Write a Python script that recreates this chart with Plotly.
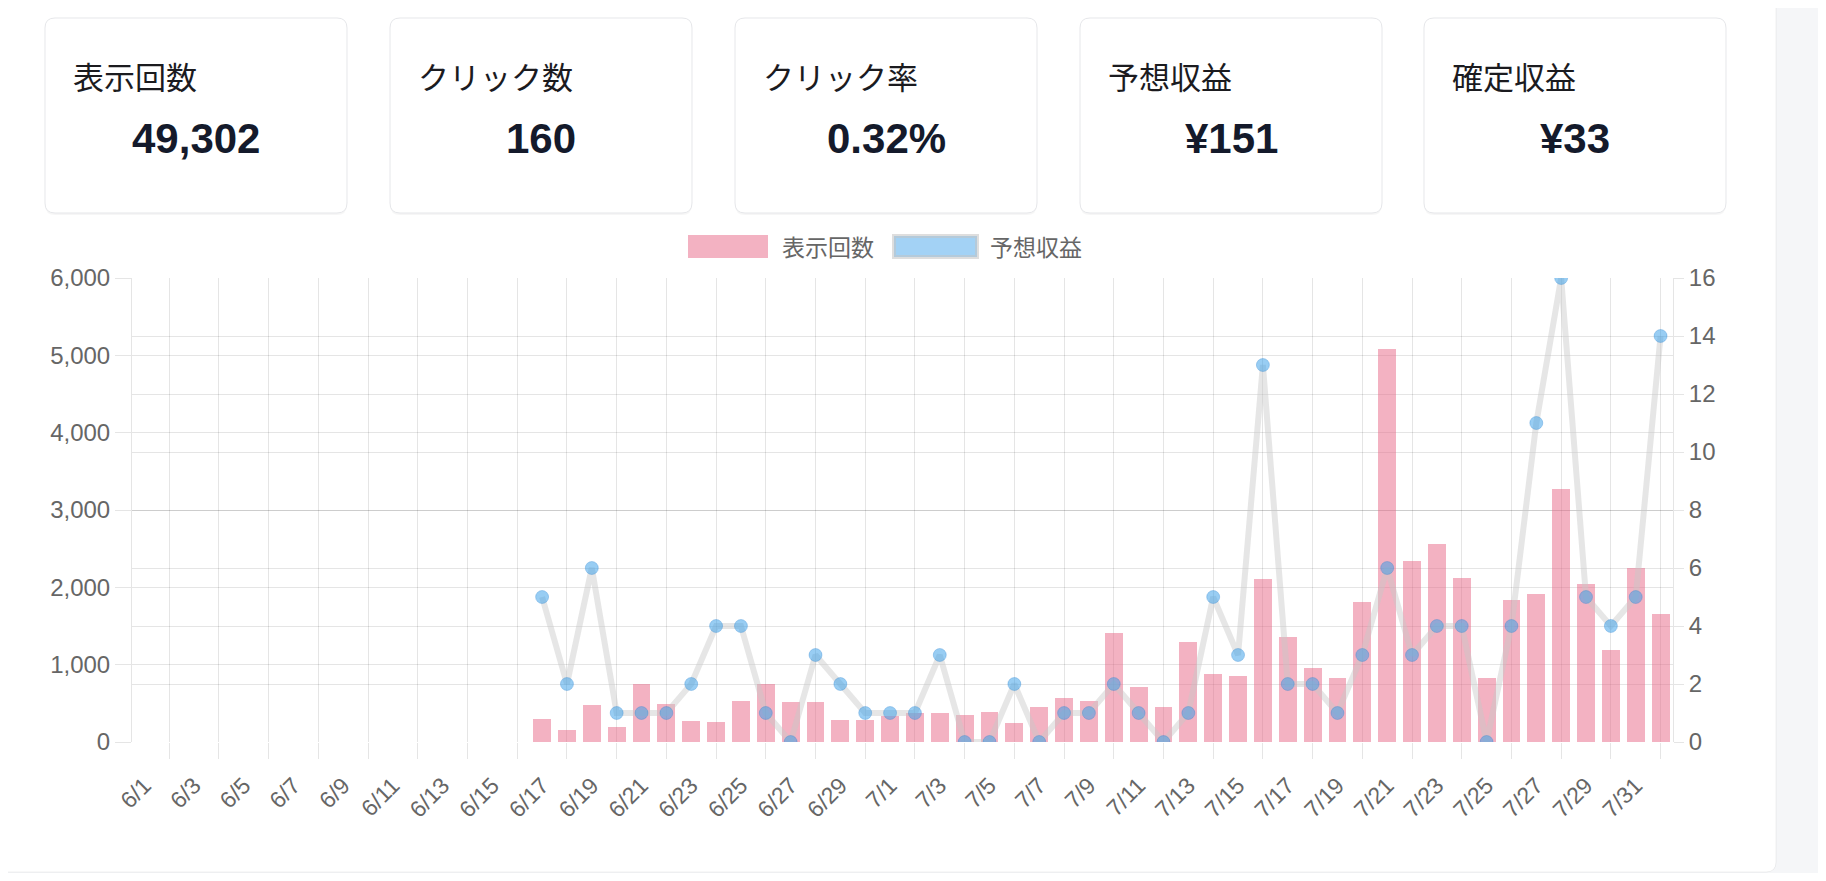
import plotly.graph_objects as go

# ----------------------------------- Data -----------------------------------

dates = [f"6/{d}" for d in range(1, 31)] + [f"7/{d}" for d in range(1, 32)] + ["8/1"]

impressions = [
    0, 0, 0, 0, 0, 0, 0, 0, 0, 0, 0, 0, 0, 0, 0, 0,
    300, 160, 475, 190, 755, 495, 275, 265, 535, 755, 520, 515, 285, 280,
    340, 375, 375, 345, 390, 250, 457, 565, 534, 1409, 707, 453, 1293, 879,
    853, 2112, 1358, 957, 823, 1810, 5078, 2336, 2556, 2116, 832, 1836, 1914,
    3276, 2039, 1185, 2250, 1655,
]

revenue = [
    None, None, None, None, None, None, None, None, None, None, None, None, None, None, None, None,
    5, 2, 6, 1, 1, 1, 2, 4, 4, 1, 0, 3, 2, 1,
    1, 1, 3, 0, 0, 2, 0, 1, 1, 2, 1, 0, 1, 5,
    3, 13, 2, 2, 1, 3, 6, 3, 4, 4, 0, 4, 11,
    16, 5, 4, 5, 14,
]

card_titles = ["表示回数", "クリック数", "クリック率", "予想収益", "確定収益"]
card_values = ["49,302", "160", "0.32%", "¥151", "¥33"]
legend_names = ["表示回数", "予想収益"]

# ----------------------------------- Helpers -----------------------------------

# the page body keeps its 8px margin on every side, so the figure is made
# 16px smaller than the window and all positions are given in window pixels
OFF = 8
W, H = 1826 - 2 * OFF, 881 - 2 * OFF
FONT = "Liberation Sans, Noto Sans CJK JP, sans-serif"
CJK = "Noto Sans CJK JP, sans-serif"
GRID = "rgba(0,0,0,0.1)"


def X(p):
    return (p - OFF) / W


def Y(p):
    return 1 - (p - OFF) / H


def rounded(x0, y0, x1, y1, r):
    pts = [
        ("M", x0 + r, y0), ("L", x1 - r, y0), ("Q", x1, y0), ("", x1, y0 + r),
        ("L", x1, y1 - r), ("Q", x1, y1), ("", x1 - r, y1),
        ("L", x0 + r, y1), ("Q", x0, y1), ("", x0, y1 - r),
        ("L", x0, y0 + r), ("Q", x0, y0), ("", x0 + r, y0),
    ]
    return " ".join(f"{c}{X(a):.5f},{Y(b):.5f}" for c, a, b in pts) + " Z"


def box(path, fill, line_color=None, line_width=0, layer="below"):
    return dict(type="path", path=path, xref="paper", yref="paper", fillcolor=fill,
                line=dict(color=line_color or "rgba(0,0,0,0)", width=line_width), layer=layer)


# ----------------------------------- Figure -----------------------------------

idx = list(range(len(dates)))

fig = go.Figure()
fig.add_trace(go.Bar(
    x=idx, y=impressions, name=legend_names[0], width=0.72,
    marker=dict(color="rgba(231,101,133,0.5)", line=dict(width=0)),
))
fig.add_trace(go.Scatter(
    x=idx, y=revenue, name=legend_names[1], yaxis="y2", mode="lines+markers",
    line=dict(color="rgba(200,200,200,0.45)", width=6),
    marker=dict(size=13, color="rgba(50,155,232,0.5)", line=dict(color="rgba(40,130,210,0.3)", width=1)),
))

shapes = []
annotations = []

# white panel
shapes.append(box(rounded(-20, -20, 1776, 872, 10), "white", "rgba(0,0,0,0.06)", 1))

# summary cards
card_x = [45, 390, 735, 1080, 1424]
for cx, title, value in zip(card_x, card_titles, card_values):
    shapes.append(box(rounded(cx, 19, cx + 302, 215, 10), "rgba(0,0,0,0.035)"))
    shapes.append(box(rounded(cx, 18, cx + 302, 213, 10), "white", "#E6E7EA", 1))
    annotations.append(dict(x=X(cx + 26), y=Y(75), xref="paper", yref="paper", text=title, showarrow=False,
                            xanchor="left", yanchor="middle", font=dict(family=CJK, size=31, color="#1b1b1f")))
    annotations.append(dict(x=X(cx + 151), y=Y(139), xref="paper", yref="paper", text=f"<b>{value}</b>",
                            showarrow=False, xanchor="center", yanchor="middle",
                            font=dict(family=FONT, size=42, color="#141a2b")))

# legend
shapes.append(dict(type="rect", x0=X(688), x1=X(768), y0=Y(235), y1=Y(258), xref="paper", yref="paper",
                   fillcolor="rgba(231,101,133,0.5)", line=dict(width=0)))
shapes.append(dict(type="rect", x0=X(894), x1=X(977), y0=Y(236), y1=Y(257), xref="paper", yref="paper",
                   fillcolor="rgba(50,155,232,0.45)", line=dict(color="rgba(195,195,195,0.55)", width=4)))
for lx, name in zip([780, 988], legend_names):
    annotations.append(dict(x=X(lx), y=Y(246), xref="paper", yref="paper", text=name, showarrow=False,
                            xanchor="left", yanchor="middle", font=dict(family=CJK, size=23, color="#666666")))

fig.update_layout(
    width=W, height=H,
    margin=dict(l=0, r=0, t=0, b=0, autoexpand=False),
    paper_bgcolor="#F5F6F8",
    plot_bgcolor="rgba(0,0,0,0)",
    showlegend=False,
    bargap=0,
    shapes=shapes,
    annotations=annotations,
    font=dict(family=FONT, size=22, color="#666666"),
    xaxis=dict(
        domain=[X(132), X(1673)], range=[-0.5, len(dates) - 0.5], automargin=False,
        tickvals=idx[::2], ticktext=dates[::2], tickangle=-45,
        tickfont=dict(size=23),
        showgrid=False, zeroline=False,
        ticks="outside", ticklen=20, tickcolor="rgba(0,0,0,0)",
        minor=dict(tickvals=idx[1::2], showgrid=True, gridcolor=GRID, gridwidth=1,
                   ticks="outside", ticklen=16, tickcolor=GRID),
        showline=False,
    ),
    yaxis=dict(
        domain=[Y(742), Y(278)], range=[0, 6000], dtick=1000, tickformat=",", automargin=False,
        tickfont=dict(size=24),
        showgrid=True, gridcolor=GRID, zeroline=False,
        ticks="outside", ticklen=16, tickcolor=GRID,
        showline=True, linecolor=GRID,
    ),
    yaxis2=dict(
        overlaying="y", side="right", range=[0, 16], dtick=2, automargin=False,
        tickfont=dict(size=24),
        showgrid=True, gridcolor=GRID, zeroline=False,
        ticks="outside", ticklen=10, tickcolor=GRID,
        showline=True, linecolor=GRID,
    ),
)

fig.write_html("out.html")
